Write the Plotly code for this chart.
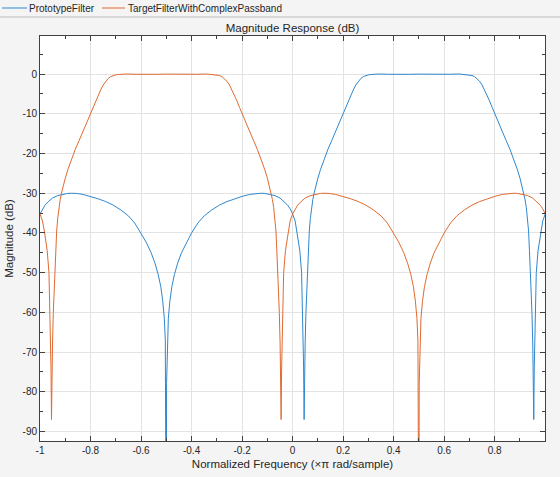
import plotly.graph_objects as go

# ---------------- data ----------------
series_names = ["PrototypeFilter", "TargetFilterWithComplexPassband"]

blue_freq = [
    -1.000, -0.990, -0.980, -0.965, -0.950, -0.930, -0.910, -0.890, -0.875, -0.855,
    -0.830, -0.800, -0.770, -0.740, -0.710, -0.680, -0.650, -0.625, -0.600, -0.580,
    -0.560, -0.545, -0.532, -0.522, -0.514, -0.508, -0.504, -0.501, -0.500,
    -0.499, -0.496, -0.492, -0.486, -0.478, -0.468, -0.455, -0.440, -0.420, -0.400,
    -0.375, -0.350, -0.320, -0.290, -0.260, -0.230, -0.200, -0.170, -0.145, -0.125,
    -0.110, -0.090, -0.070, -0.050, -0.035, -0.020, -0.010, 0.000, 0.010, 0.0185,
    0.0285, 0.0355, 0.0396, 0.0415, 0.0435, 0.0455, 0.0475, 0.0495, 0.0527, 0.0555,
    0.0586, 0.0625, 0.066, 0.070, 0.075, 0.080, 0.085, 0.090, 0.100, 0.110,
    0.120, 0.130, 0.140, 0.155, 0.170, 0.185, 0.200, 0.210, 0.220, 0.230, 0.240,
    0.250, 0.260, 0.270, 0.280, 0.290, 0.300, 0.310, 0.340, 0.380, 0.420,
    0.460, 0.500,
    0.540, 0.580, 0.620, 0.660, 0.690, 0.700, 0.710, 0.720, 0.730, 0.740,
    0.750, 0.760, 0.770, 0.780, 0.790, 0.800, 0.815, 0.830, 0.845, 0.860,
    0.870, 0.880, 0.890, 0.900, 0.910, 0.915, 0.920, 0.925, 0.930, 0.934, 0.9375,
    0.9414, 0.9445, 0.9473, 0.9505, 0.9525, 0.9545, 0.9565, 0.9585, 0.9604, 0.9645,
    0.9715, 0.9815, 0.990, 1.000,
]
blue_db = [
    -35.2, -33.9, -33.0, -32.0, -31.2, -30.6, -30.25, -30.05, -30.0, -30.05,
    -30.3, -30.8, -31.4, -32.1, -33.0, -34.2, -35.7, -37.5, -40.0, -42.3,
    -45.0, -47.6, -50.5, -53.5, -57.2, -61.5, -67.0, -78.0, -130.0,
    -78.0, -67.0, -61.5, -57.2, -53.5, -50.5, -47.6, -45.0, -42.3, -40.0,
    -37.5, -35.7, -34.2, -33.0, -32.1, -31.4, -30.8, -30.3, -30.05, -30.0,
    -30.05, -30.25, -30.6, -31.2, -32.0, -33.0, -33.9, -35.2, -37.0, -40.0,
    -44.5, -50.0, -60.0, -68.0, -74.0, -87.0, -74.0, -68.0, -60.0, -55.0,
    -50.0, -44.5, -39.5, -36.4, -33.6, -31.6, -30.0, -28.6, -26.2, -24.1,
    -22.2, -20.5, -18.9, -16.7, -14.4, -12.2, -10.0, -8.4, -6.8, -5.4, -4.0,
    -2.75, -1.8, -1.1, -0.62, -0.35, -0.18, -0.10, 0.03, -0.04, 0.04,
    -0.05, 0.00,
    -0.05, 0.04, -0.04, 0.03, -0.10, -0.18, -0.35, -0.62, -1.1, -1.8,
    -2.75, -4.0, -5.4, -6.8, -8.4, -10.0, -12.2, -14.4, -16.7, -18.9,
    -20.5, -22.2, -24.1, -26.2, -28.6, -30.0, -31.6, -33.6, -36.4, -39.5, -44.5,
    -50.0, -55.0, -60.0, -68.0, -74.0, -87.0, -74.0, -68.0, -60.0, -50.0,
    -44.5, -40.0, -37.0, -35.2,
]

orange_freq = [
    -1.000, -0.990, -0.9815, -0.9715, -0.9645, -0.9604, -0.9585, -0.9565, -0.9545, -0.9525,
    -0.9505, -0.9473, -0.9445, -0.9414, -0.9375, -0.934, -0.930, -0.925, -0.920, -0.915,
    -0.910, -0.900, -0.890, -0.880, -0.870, -0.860, -0.845, -0.830, -0.815, -0.800, -0.790,
    -0.780, -0.770, -0.760, -0.750, -0.740, -0.730, -0.720, -0.710, -0.700, -0.690,
    -0.660, -0.620, -0.580, -0.540, -0.500,
    -0.460, -0.420, -0.380, -0.340, -0.310, -0.300, -0.290, -0.280, -0.270, -0.260,
    -0.250, -0.240, -0.230, -0.220, -0.210, -0.200, -0.185, -0.170, -0.155, -0.140,
    -0.130, -0.120, -0.110, -0.100, -0.090, -0.085, -0.080, -0.075, -0.070, -0.066, -0.0625,
    -0.0586, -0.0555, -0.0527, -0.0495, -0.0475, -0.0455, -0.0435, -0.0415, -0.0396, -0.0355,
    -0.0285, -0.0185, -0.010, 0.000,
    0.010, 0.020, 0.035, 0.050, 0.070, 0.090, 0.110, 0.125, 0.145, 0.170,
    0.200, 0.230, 0.260, 0.290, 0.320, 0.350, 0.375, 0.400, 0.420, 0.440,
    0.455, 0.468, 0.478, 0.486, 0.492, 0.496, 0.499, 0.500,
    0.501, 0.504, 0.508, 0.514, 0.522, 0.532, 0.545, 0.560, 0.580, 0.600,
    0.625, 0.650, 0.680, 0.710, 0.740, 0.770, 0.800, 0.830, 0.855, 0.875,
    0.890, 0.910, 0.930, 0.950, 0.965, 0.980, 0.990, 1.000,
]
orange_db = [
    -35.2, -37.0, -40.0, -44.5, -50.0, -60.0, -68.0, -74.0, -87.0, -74.0,
    -68.0, -60.0, -55.0, -50.0, -44.5, -39.5, -36.4, -33.6, -31.6, -30.0,
    -28.6, -26.2, -24.1, -22.2, -20.5, -18.9, -16.7, -14.4, -12.2, -10.0, -8.4,
    -6.8, -5.4, -4.0, -2.75, -1.8, -1.1, -0.62, -0.35, -0.18, -0.10,
    0.03, -0.04, 0.04, -0.05, 0.00,
    -0.05, 0.04, -0.04, 0.03, -0.10, -0.18, -0.35, -0.62, -1.1, -1.8,
    -2.75, -4.0, -5.4, -6.8, -8.4, -10.0, -12.2, -14.4, -16.7, -18.9,
    -20.5, -22.2, -24.1, -26.2, -28.6, -30.0, -31.6, -33.6, -36.4, -39.5, -44.5,
    -50.0, -55.0, -60.0, -68.0, -74.0, -87.0, -74.0, -68.0, -60.0, -50.0,
    -44.5, -40.0, -37.0, -35.2,
    -33.9, -33.0, -32.0, -31.2, -30.6, -30.25, -30.05, -30.0, -30.05, -30.3,
    -30.8, -31.4, -32.1, -33.0, -34.2, -35.7, -37.5, -40.0, -42.3, -45.0,
    -47.6, -50.5, -53.5, -57.2, -61.5, -67.0, -78.0, -130.0,
    -78.0, -67.0, -61.5, -57.2, -53.5, -50.5, -47.6, -45.0, -42.3, -40.0,
    -37.5, -35.7, -34.2, -33.0, -32.1, -31.4, -30.8, -30.3, -30.05, -30.0,
    -30.05, -30.25, -30.6, -31.2, -32.0, -33.0, -33.9, -35.2,
]

x_tick_vals = [-1, -0.8, -0.6, -0.4, -0.2, 0, 0.2, 0.4, 0.6, 0.8]
x_tick_labels = ["-1", "-0.8", "-0.6", "-0.4", "-0.2", "0", "0.2", "0.4", "0.6", "0.8"]
y_tick_vals = [-90, -80, -70, -60, -50, -40, -30, -20, -10, 0]
y_tick_labels = ["-90", "-80", "-70", "-60", "-50", "-40", "-30", "-20", "-10", "0"]

title_text = "Magnitude Response (dB)"
x_title = "Normalized Frequency (×π rad/sample)"
y_title = "Magnitude (dB)"

# ---------------- styling ----------------
BLUE = "#2f87cf"
ORANGE = "#e06a30"
FONT = "Arial, Liberation Sans, Helvetica, sans-serif"
TXT = "#262626"
AX = "#404040"
GRID = "#e3e3e3"
PAPER = "#f4f4f4"

W, H = 560, 477
ML, MR, MT, MB = 40, 15, 36, 36
PW, PH = W - ML - MR, H - MT - MB


def px_x(p):  # figure pixel x -> paper coordinate
    return (p - ML) / PW


def px_y(p):  # figure pixel y (from top) -> paper coordinate
    return 1 - (p - MT) / PH


fig = go.Figure()
fig.add_trace(go.Scatter(x=blue_freq, y=blue_db, mode="lines", name=series_names[0],
                         line=dict(color=BLUE, width=1)))
fig.add_trace(go.Scatter(x=orange_freq, y=orange_db, mode="lines", name=series_names[1],
                         line=dict(color=ORANGE, width=1)))

axis_common = dict(
    showline=True, linecolor=AX, linewidth=1, mirror="ticks",
    ticks="inside", ticklen=5, tickcolor=AX, tickwidth=1,
    showgrid=True, gridcolor=GRID, gridwidth=1, zeroline=False,
    tickfont=dict(family=FONT, size=10, color=TXT),
)

fig.update_xaxes(
    range=[-1, 0.999], tickvals=x_tick_vals, ticktext=x_tick_labels,
    minor=dict(ticks="inside", dtick=0.1, ticklen=3, tickcolor=AX, showgrid=False),
    title=dict(text=x_title, font=dict(family=FONT, size=11.5, color=TXT), standoff=4),
    **axis_common,
)
fig.update_yaxes(
    range=[-92.4, 9.6], tickvals=y_tick_vals, ticktext=y_tick_labels,
    minor=dict(ticks="inside", dtick=5, tick0=0, ticklen=3, tickcolor=AX, showgrid=False),
    title=dict(text=y_title, font=dict(family=FONT, size=11.5, color=TXT), standoff=6),
    **axis_common,
)

# legend drawn along the top strip, MATLAB style
legend_shapes = [
    dict(type="line", xref="paper", yref="paper",
         x0=px_x(2), x1=px_x(27), y0=px_y(8), y1=px_y(8),
         line=dict(color=BLUE, width=1)),
    dict(type="line", xref="paper", yref="paper",
         x0=px_x(102), x1=px_x(125), y0=px_y(8), y1=px_y(8),
         line=dict(color=ORANGE, width=1)),
    dict(type="line", xref="paper", yref="paper",
         x0=px_x(0), x1=px_x(W), y0=px_y(17), y1=px_y(17),
         line=dict(color="#bdbdbd", width=1)),
]
legend_texts = [
    dict(text=series_names[0], xref="paper", yref="paper", x=px_x(27), y=px_y(8),
         xanchor="left", yanchor="middle", showarrow=False,
         font=dict(family=FONT, size=10, color=TXT)),
    dict(text=series_names[1], xref="paper", yref="paper", x=px_x(126), y=px_y(8),
         xanchor="left", yanchor="middle", showarrow=False,
         font=dict(family=FONT, size=10, color=TXT)),
]

fig.update_layout(
    width=W, height=H,
    margin=dict(l=ML, r=MR, t=MT, b=MB, autoexpand=False),
    paper_bgcolor=PAPER, plot_bgcolor="white",
    font=dict(family=FONT, size=10, color=TXT),
    title=dict(text=title_text, x=(ML + PW / 2) / W, xanchor="center",
               y=1 - 28 / H, yanchor="middle",
               font=dict(family=FONT, size=11.5, color=TXT)),
    showlegend=False,
    shapes=legend_shapes,
    annotations=legend_texts,
)

fig.write_html("out.html", config={"displayModeBar": False},
               post_script="document.body.style.margin='0';")
